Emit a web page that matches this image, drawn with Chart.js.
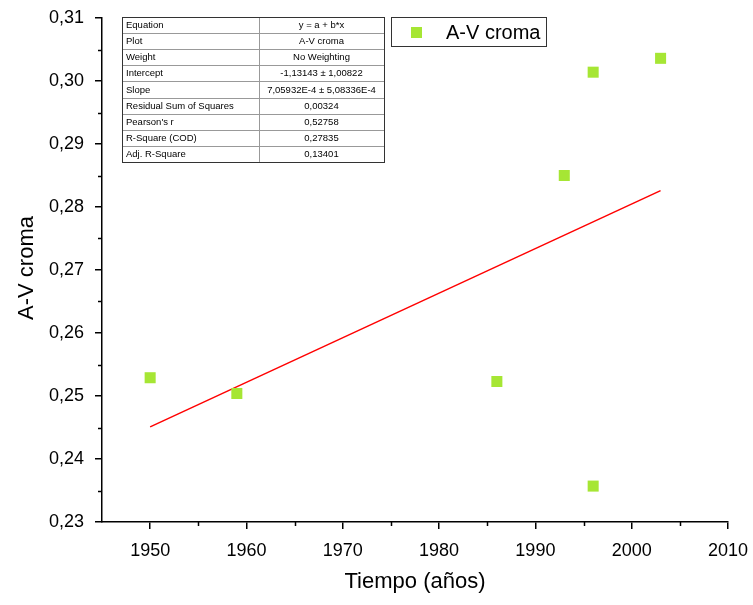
<!DOCTYPE html>
<html>
<head>
<meta charset="utf-8">
<script src="https://cdn.jsdelivr.net/npm/chart.js@4/dist/chart.umd.min.js"></script>
<style>
  html, body { margin: 0; padding: 0; background: #fff; }
  #wrap { width: 753px; height: 605px; }
</style>
</head>
<body>
<div id="wrap"><canvas id="chart" width="753" height="605"></canvas></div>
<script>
// Data points (Tiempo vs A-V croma)
const years = [1950, 1959, 1986, 1993, 1996, 1996, 2003];
const croma = [0.2529, 0.2504, 0.2523, 0.2850, 0.3014, 0.2357, 0.3036];

// Linear fit line ends
const fitYears = [1950, 2003];
const fitCroma = [0.2451, 0.2826];

// Axis ticks
const yTicks = [0.23, 0.24, 0.25, 0.26, 0.27, 0.28, 0.29, 0.30, 0.31];
const yMinor = [0.235, 0.245, 0.255, 0.265, 0.275, 0.285, 0.295, 0.305];
const xTicks = [1950, 1960, 1970, 1980, 1990, 2000, 2010];
const xMinor = [1955, 1965, 1975, 1985, 1995, 2005];

// Fit results table
const tableLabels = ['Equation', 'Plot', 'Weight', 'Intercept', 'Slope',
    'Residual Sum of Squares', "Pearson's r", 'R-Square (COD)', 'Adj. R-Square'];
const tableValues = ['y = a + b*x', 'A-V croma', 'No Weighting', '-1,13143 ± 1,00822',
    '7,05932E-4 ± 5,08336E-4', '0,00324', '0,52758', '0,27835', '0,13401'];

const green = '#a6e634';
const font = 'Arial, "Liberation Sans", sans-serif';

// Minor ticks, axis titles, table and legend
const extras = {
    id: 'extras',
    afterDraw(chart) {
        const ctx = chart.ctx;
        const xs = chart.scales.x;
        const ys = chart.scales.y;
        const area = chart.chartArea;

        ctx.save();
        ctx.strokeStyle = '#000';
        ctx.lineWidth = 1.5;
        yMinor.forEach(v => {
            const py = Math.round(ys.getPixelForValue(v)) + 0.5;
            ctx.beginPath();
            ctx.moveTo(area.left - 4, py);
            ctx.lineTo(area.left, py);
            ctx.stroke();
        });
        xMinor.forEach(v => {
            const px = Math.round(xs.getPixelForValue(v)) + 0.5;
            ctx.beginPath();
            ctx.moveTo(px, area.bottom);
            ctx.lineTo(px, area.bottom + 4);
            ctx.stroke();
        });

        // axis titles
        ctx.fillStyle = '#000';
        ctx.font = '22px ' + font;
        ctx.textAlign = 'center';
        ctx.textBaseline = 'middle';
        ctx.fillText('Tiempo (años)', 415, 582);
        ctx.save();
        ctx.translate(27, 268);
        ctx.rotate(-Math.PI / 2);
        ctx.fillText('A-V croma', 0, 0);
        ctx.restore();

        // table
        const tx = 122, ty = 17, tw = 262, colX = 259, rowH = 16.1;
        ctx.fillStyle = '#fff';
        ctx.fillRect(tx, ty, tw, rowH * tableLabels.length);
        ctx.strokeStyle = '#999';
        ctx.lineWidth = 1;
        for (let i = 1; i < tableLabels.length; i++) {
            const py = Math.round(ty + i * rowH) + 0.5;
            ctx.beginPath();
            ctx.moveTo(tx, py);
            ctx.lineTo(tx + tw, py);
            ctx.stroke();
        }
        ctx.beginPath();
        ctx.moveTo(colX + 0.5, ty);
        ctx.lineTo(colX + 0.5, ty + rowH * tableLabels.length);
        ctx.stroke();
        ctx.strokeStyle = '#333';
        ctx.strokeRect(tx + 0.5, ty + 0.5, tw, Math.round(rowH * tableLabels.length));

        ctx.fillStyle = '#000';
        ctx.font = '9.5px ' + font;
        ctx.textBaseline = 'middle';
        tableLabels.forEach((t, i) => {
            const cy = ty + i * rowH + rowH / 2 + 0.5;
            ctx.textAlign = 'left';
            ctx.fillText(t, tx + 4, cy);
            ctx.textAlign = 'center';
            ctx.fillText(tableValues[i], (colX + tx + tw) / 2, cy);
        });

        // legend
        ctx.fillStyle = '#fff';
        ctx.fillRect(391, 17, 156, 30);
        ctx.strokeStyle = '#333';
        ctx.strokeRect(391.5, 17.5, 155, 29);
        ctx.fillStyle = green;
        ctx.fillRect(411, 27, 11, 11);
        ctx.fillStyle = '#000';
        ctx.font = '20px ' + font;
        ctx.textAlign = 'left';
        ctx.textBaseline = 'middle';
        ctx.fillText('A-V croma', 446, 33);
        ctx.restore();
    }
};

new Chart(document.getElementById('chart'), {
    type: 'scatter',
    data: {
        datasets: [
            {
                label: 'A-V croma',
                data: years.map((x, i) => ({ x: x, y: croma[i] })),
                pointStyle: 'rect',
                pointRadius: 7.8,
                pointBackgroundColor: green,
                pointBorderColor: green,
                pointBorderWidth: 0,
                showLine: false,
                order: 1
            },
            {
                label: 'fit',
                data: fitYears.map((x, i) => ({ x: x, y: fitCroma[i] })),
                showLine: true,
                borderColor: '#ff0000',
                borderWidth: 1.5,
                pointRadius: 0,
                fill: false,
                order: 2
            }
        ]
    },
    options: {
        responsive: false,
        animation: false,
        events: [],
        layout: { padding: { top: 18, right: 25, left: 0, bottom: 0 } },
        plugins: {
            legend: { display: false },
            tooltip: { enabled: false }
        },
        scales: {
            x: {
                type: 'linear',
                min: 1945,
                max: 2010,
                afterBuildTicks: s => { s.ticks = xTicks.map(v => ({ value: v })); },
                afterFit: s => { s.height = 83; s.paddingLeft = 0; s.paddingRight = 0; },
                grid: { drawOnChartArea: false, drawTicks: true, tickLength: 7, color: '#000', lineWidth: 1.5 },
                border: { display: true, color: '#000', width: 1.5 },
                ticks: {
                    color: '#000',
                    font: { family: font, size: 18 },
                    padding: 11,
                    maxRotation: 0,
                    callback: v => String(v)
                }
            },
            y: {
                type: 'linear',
                min: 0.23,
                max: 0.31,
                afterBuildTicks: s => { s.ticks = yTicks.map(v => ({ value: v })); },
                afterFit: s => { s.width = 102; s.paddingTop = 0; s.paddingBottom = 0; },
                grid: { drawOnChartArea: false, drawTicks: true, tickLength: 7, color: '#000', lineWidth: 1.5 },
                border: { display: true, color: '#000', width: 1.5 },
                ticks: {
                    color: '#000',
                    font: { family: font, size: 18 },
                    padding: 11,
                    callback: v => v.toFixed(2).replace('.', ',')
                }
            }
        }
    },
    plugins: [extras]
});
</script>
</body>
</html>
